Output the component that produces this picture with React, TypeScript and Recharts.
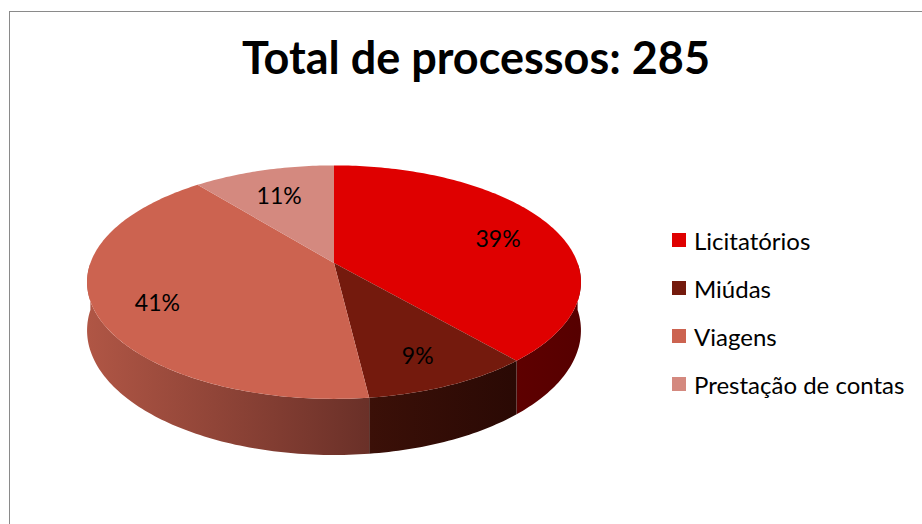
import React from 'react';
import { PieChart, Pie, Cell, Legend } from 'recharts';

const categories = ['Licitatórios', 'Miúdas', 'Viagens', 'Prestação de contas'];
const values = [110, 27, 117, 31];
const topColors = ['#DF0000', '#741A0D', '#CC6350', '#D4897F'];
const sideLight = ['#5E0000', '#3B1008', '#B05645', '#B87268'];
const sideDark = ['#560000', '#2A0904', '#6A3028', '#8A5049'];

const total = values.reduce((a, b) => a + b, 0);
const titleText = `Total de processos: ${total}`;
const data = categories.map((name, i) => ({ name, value: values[i] }));

const FONT = 'Lato, "Open Sans", sans-serif';
const KX = 2.03;
const KY = 0.9467;
const KP = 0.164;
const KD = 0.391;

function proj(cx: number, cy: number, R: number, deg: number, r: number) {
  const t = (deg * Math.PI) / 180;
  const u = Math.cos(t) * r;
  const v = -Math.sin(t) * r;
  const w = 1 - KP * v;
  return { x: cx + (R * KX * u) / w, y: cy + (R * KY * v) / w, w };
}

function arcPts(cx: number, cy: number, R: number, a0: number, a1: number) {
  const pts: { x: number; y: number; w: number }[] = [];
  const n = Math.max(2, Math.ceil(Math.abs(a1 - a0)));
  for (let i = 0; i <= n; i++) {
    pts.push(proj(cx, cy, R, a0 + ((a1 - a0) * i) / n, 1));
  }
  return pts;
}

const TopShape = (props: any) => {
  const { cx, cy, outerRadius, startAngle, endAngle, fill } = props;
  const pts = arcPts(cx, cy, outerRadius, startAngle, endAngle);
  const d =
    `M${cx},${cy} ` + pts.map((p) => `L${p.x.toFixed(2)},${p.y.toFixed(2)}`).join(' ') + ' Z';
  return <path d={d} fill={fill} stroke="none" />;
};

const SideShape = (props: any) => {
  const { cx, cy, outerRadius, startAngle, endAngle, index } = props;
  const lo = Math.max(Math.min(startAngle, endAngle), -180);
  const hi = Math.min(Math.max(startAngle, endAngle), 0);
  if (hi <= lo) return <g />;
  const top = arcPts(cx, cy, outerRadius, hi, lo);
  const D = outerRadius * KD;
  const bottom = top.map((p) => ({ x: p.x, y: p.y + D / p.w })).reverse();
  const all = [...top, ...bottom];
  const d = 'M' + all.map((p) => `${p.x.toFixed(2)},${p.y.toFixed(2)}`).join(' L') + ' Z';
  const id = `side-grad-${index}`;
  return (
    <g>
      <defs>
        <linearGradient id={id} x1="0" y1="0" x2="1" y2="0">
          <stop offset="0%" stopColor={sideLight[index]} />
          <stop offset="100%" stopColor={sideDark[index]} />
        </linearGradient>
      </defs>
      <path d={d} fill={`url(#${id})`} stroke="none" />
    </g>
  );
};

const renderLabel = (props: any) => {
  const { cx, cy, midAngle, outerRadius, percent } = props;
  const t = (midAngle * Math.PI) / 180;
  const r = 0.75;
  const u = Math.cos(t) * r;
  const v = -Math.sin(t) * r;
  const w = 1 - KP * v;
  const x = cx + (outerRadius * KX * u) / w;
  const y = cy + (outerRadius * KY * v) / w + 4;
  return (
    <text
      x={x}
      y={y}
      textAnchor="middle"
      dominantBaseline="central"
      fontFamily={FONT}
      fontSize={23}
      fill="#000"
    >
      {`${Math.round(percent * 100)}%`}
    </text>
  );
};

const LegendContent = (props: any) => {
  const payload: any[] = props.payload || [];
  const seen = new Set<string>();
  const items = payload.filter((e) => {
    const c = String(e.color || '').toUpperCase();
    if (!topColors.includes(c) || seen.has(e.value)) return false;
    seen.add(e.value);
    return true;
  });
  items.sort((a, b) => categories.indexOf(a.value) - categories.indexOf(b.value));
  const list = items.length
    ? items.map((e) => ({ name: e.value, color: e.color }))
    : categories.map((name, i) => ({ name, color: topColors[i] }));
  return (
    <div style={{ fontFamily: FONT, fontSize: 24, color: '#000' }}>
      {list.map((it) => (
        <div key={it.name} style={{ display: 'flex', alignItems: 'center', height: 48 }}>
          <span
            style={{
              display: 'inline-block',
              width: 14,
              height: 14,
              background: it.color,
              marginRight: 8,
            }}
          />
          <span style={{ whiteSpace: 'nowrap' }}>{it.name}</span>
        </div>
      ))}
    </div>
  );
};

export default function App() {
  return (
    <div
      style={{
        position: 'absolute',
        left: 0,
        top: 0,
        width: 922,
        height: 524,
        overflow: 'hidden',
        background: '#fff',
      }}
    >
      <div
        style={{
          position: 'absolute',
          left: 9,
          top: 11,
          width: 1200,
          height: 1200,
          border: '1px solid #8A8A8A',
          boxSizing: 'border-box',
        }}
      />
      <div
        style={{
          position: 'absolute',
          left: 0,
          width: 952,
          top: 30,
          textAlign: 'center',
          fontFamily: FONT,
          fontWeight: 700,
          fontSize: 45,
          lineHeight: '54px',
          color: '#000',
        }}
      >
        {titleText}
      </div>
      <div style={{ position: 'absolute', left: 0, top: 0 }}>
        <PieChart width={922} height={524} margin={{ top: 0, right: 0, bottom: 0, left: 0 }}>
          <Pie
            data={data}
            dataKey="value"
            nameKey="name"
            cx={334}
            cy={263}
            outerRadius={120}
            startAngle={90}
            endAngle={-270}
            shape={SideShape}
            isAnimationActive={false}
            legendType="none"
            stroke="none"
          >
            {data.map((d, i) => (
              <Cell key={d.name} fill={sideDark[i]} />
            ))}
          </Pie>
          <Pie
            data={data}
            dataKey="value"
            nameKey="name"
            cx={334}
            cy={263}
            outerRadius={120}
            startAngle={90}
            endAngle={-270}
            shape={TopShape}
            label={renderLabel}
            labelLine={false}
            isAnimationActive={false}
            legendType="square"
            stroke="none"
          >
            {data.map((d, i) => (
              <Cell key={d.name} fill={topColors[i]} />
            ))}
          </Pie>
          <Legend
            layout="vertical"
            align="right"
            verticalAlign="middle"
            content={LegendContent}
            wrapperStyle={{ position: 'absolute', left: 672, top: 216, width: 250 }}
          />
        </PieChart>
      </div>
    </div>
  );
}
